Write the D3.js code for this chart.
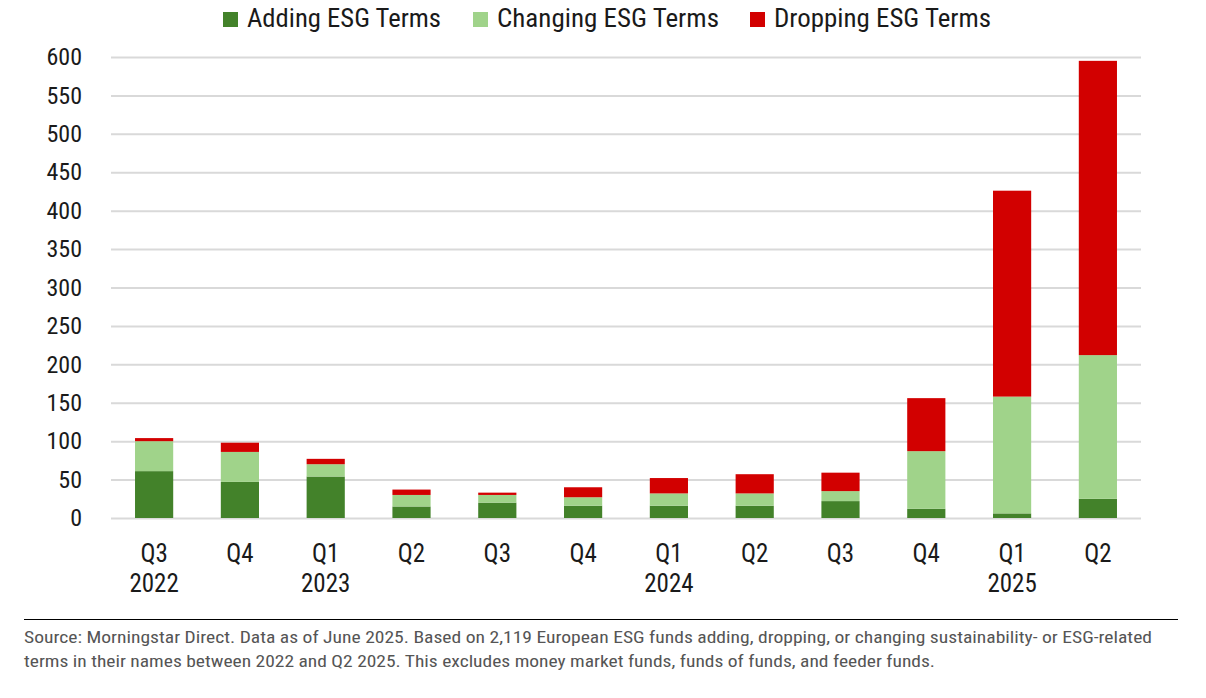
<!DOCTYPE html>
<html>
<head>
<meta charset="utf-8">
<script src="https://cdn.jsdelivr.net/npm/d3@7"></script>
<style>
  body { margin: 0; background: #fff; }
  svg text { font-family: "Liberation Sans Narrow", "Roboto Condensed", "DejaVu Sans Condensed", sans-serif; }
</style>
</head>
<body>
<svg id="chart" width="1206" height="698"></svg>
<script>
// data
var quarters = ["Q3", "Q4", "Q1", "Q2", "Q3", "Q4", "Q1", "Q2", "Q3", "Q4", "Q1", "Q2"];
var years    = ["2022", "", "2023", "", "", "", "2024", "", "", "", "2025", ""];
var adding   = [61, 47, 54, 15, 20, 16, 16, 16, 22, 12, 6, 25];
var changing = [39, 39, 16, 15, 10, 11, 16, 16, 13, 75, 152, 187];
var dropping = [4, 12, 7, 7, 3, 13, 20, 25, 24, 69, 268, 383];
var seriesNames = ["Adding ESG Terms", "Changing ESG Terms", "Dropping ESG Terms"];
var seriesColors = ["#43822a", "#a0d38a", "#d20000"];
var yTicks = d3.range(0, 601, 50);

var svg = d3.select("#chart");
var margin = {top: 57, right: 65, bottom: 180, left: 111};
var width = 1206 - margin.left - margin.right;
var height = 698 - margin.top - margin.bottom;
var canvas = svg.append("g")
  .attr("transform", "translate(" + margin.left + "," + margin.top + ")");

var rows = quarters.map(function(q, i) {
  return {idx: i, adding: adding[i], changing: changing[i], dropping: dropping[i]};
});
var stacked = d3.stack().keys(["adding", "changing", "dropping"])(rows);

var xScale = d3.scaleBand()
  .domain(d3.range(quarters.length)).range([0, width])
  .paddingInner(0.555).paddingOuter(0.28);
var yScale = d3.scaleLinear().domain([0, 600]).range([height, 0]);

// gridlines + y labels
var yAxis = d3.axisLeft(yScale).tickValues(yTicks).tickSize(-width).tickPadding(29);
var gy = canvas.append("g").call(yAxis);
gy.select(".domain").remove();
gy.selectAll(".tick line").attr("stroke", "#d9d9d9").attr("stroke-width", 2);
gy.selectAll(".tick text").attr("font-size", 24).attr("fill", "#1a1a1a")
  .style("font-family", "'Liberation Sans Narrow', 'Roboto Condensed', 'DejaVu Sans Condensed', sans-serif");

// bars
canvas.selectAll("g.series").data(stacked).enter().append("g")
  .attr("class", "series")
  .attr("fill", function(d, i) { return seriesColors[i]; })
  .selectAll("rect").data(function(d) { return d; }).enter().append("rect")
  .attr("x", function(d) { return xScale(d.data.idx); })
  .attr("y", function(d) { return yScale(d[1]); })
  .attr("height", function(d) { return yScale(d[0]) - yScale(d[1]); })
  .attr("width", xScale.bandwidth());

// x labels
canvas.append("g").selectAll("text").data(quarters).enter().append("text")
  .attr("x", function(d, i) { return xScale(i) + xScale.bandwidth() / 2; })
  .attr("y", height + 44)
  .attr("text-anchor", "middle")
  .attr("font-size", 25).attr("fill", "#1a1a1a")
  .text(function(d) { return d; });
canvas.append("g").selectAll("text").data(years).enter().append("text")
  .attr("x", function(d, i) { return xScale(i) + xScale.bandwidth() / 2; })
  .attr("y", height + 74)
  .attr("text-anchor", "middle")
  .attr("font-size", 25).attr("fill", "#1a1a1a")
  .text(function(d) { return d; });

// legend
var legendX = [223, 473, 750];
var legendW = [194, 222, 217];
var legend = svg.append("g").selectAll("g").data(seriesNames).enter().append("g")
  .attr("transform", function(d, i) { return "translate(" + legendX[i] + ",12)"; });
legend.append("rect").attr("width", 15).attr("height", 15)
  .attr("fill", function(d, i) { return seriesColors[i]; });
legend.append("text").attr("x", 24).attr("y", 15)
  .attr("font-size", 25).attr("fill", "#1a1a1a")
  .attr("textLength", function(d, i) { return legendW[i]; })
  .attr("lengthAdjust", "spacingAndGlyphs")
  .text(function(d) { return d; });

// footer
svg.append("line").attr("x1", 24).attr("x2", 1178).attr("y1", 619.5).attr("y2", 619.5)
  .attr("stroke", "#000").attr("stroke-width", 1);
var notes = [
  "Source: Morningstar Direct. Data as of June 2025. Based on 2,119 European ESG funds adding, dropping, or changing sustainability- or ESG-related",
  "terms in their names between 2022 and Q2 2025. This excludes money market funds, funds of funds, and feeder funds."
];
var noteW = [1128, 911];
svg.append("g").selectAll("text").data(notes).enter().append("text")
  .attr("x", 24).attr("y", function(d, i) { return 643 + i * 24; })
  .attr("font-size", 17).attr("fill", "#555")
  .attr("textLength", function(d, i) { return noteW[i]; })
  .attr("lengthAdjust", "spacingAndGlyphs")
  .text(function(d) { return d; });
</script>
</body>
</html>
